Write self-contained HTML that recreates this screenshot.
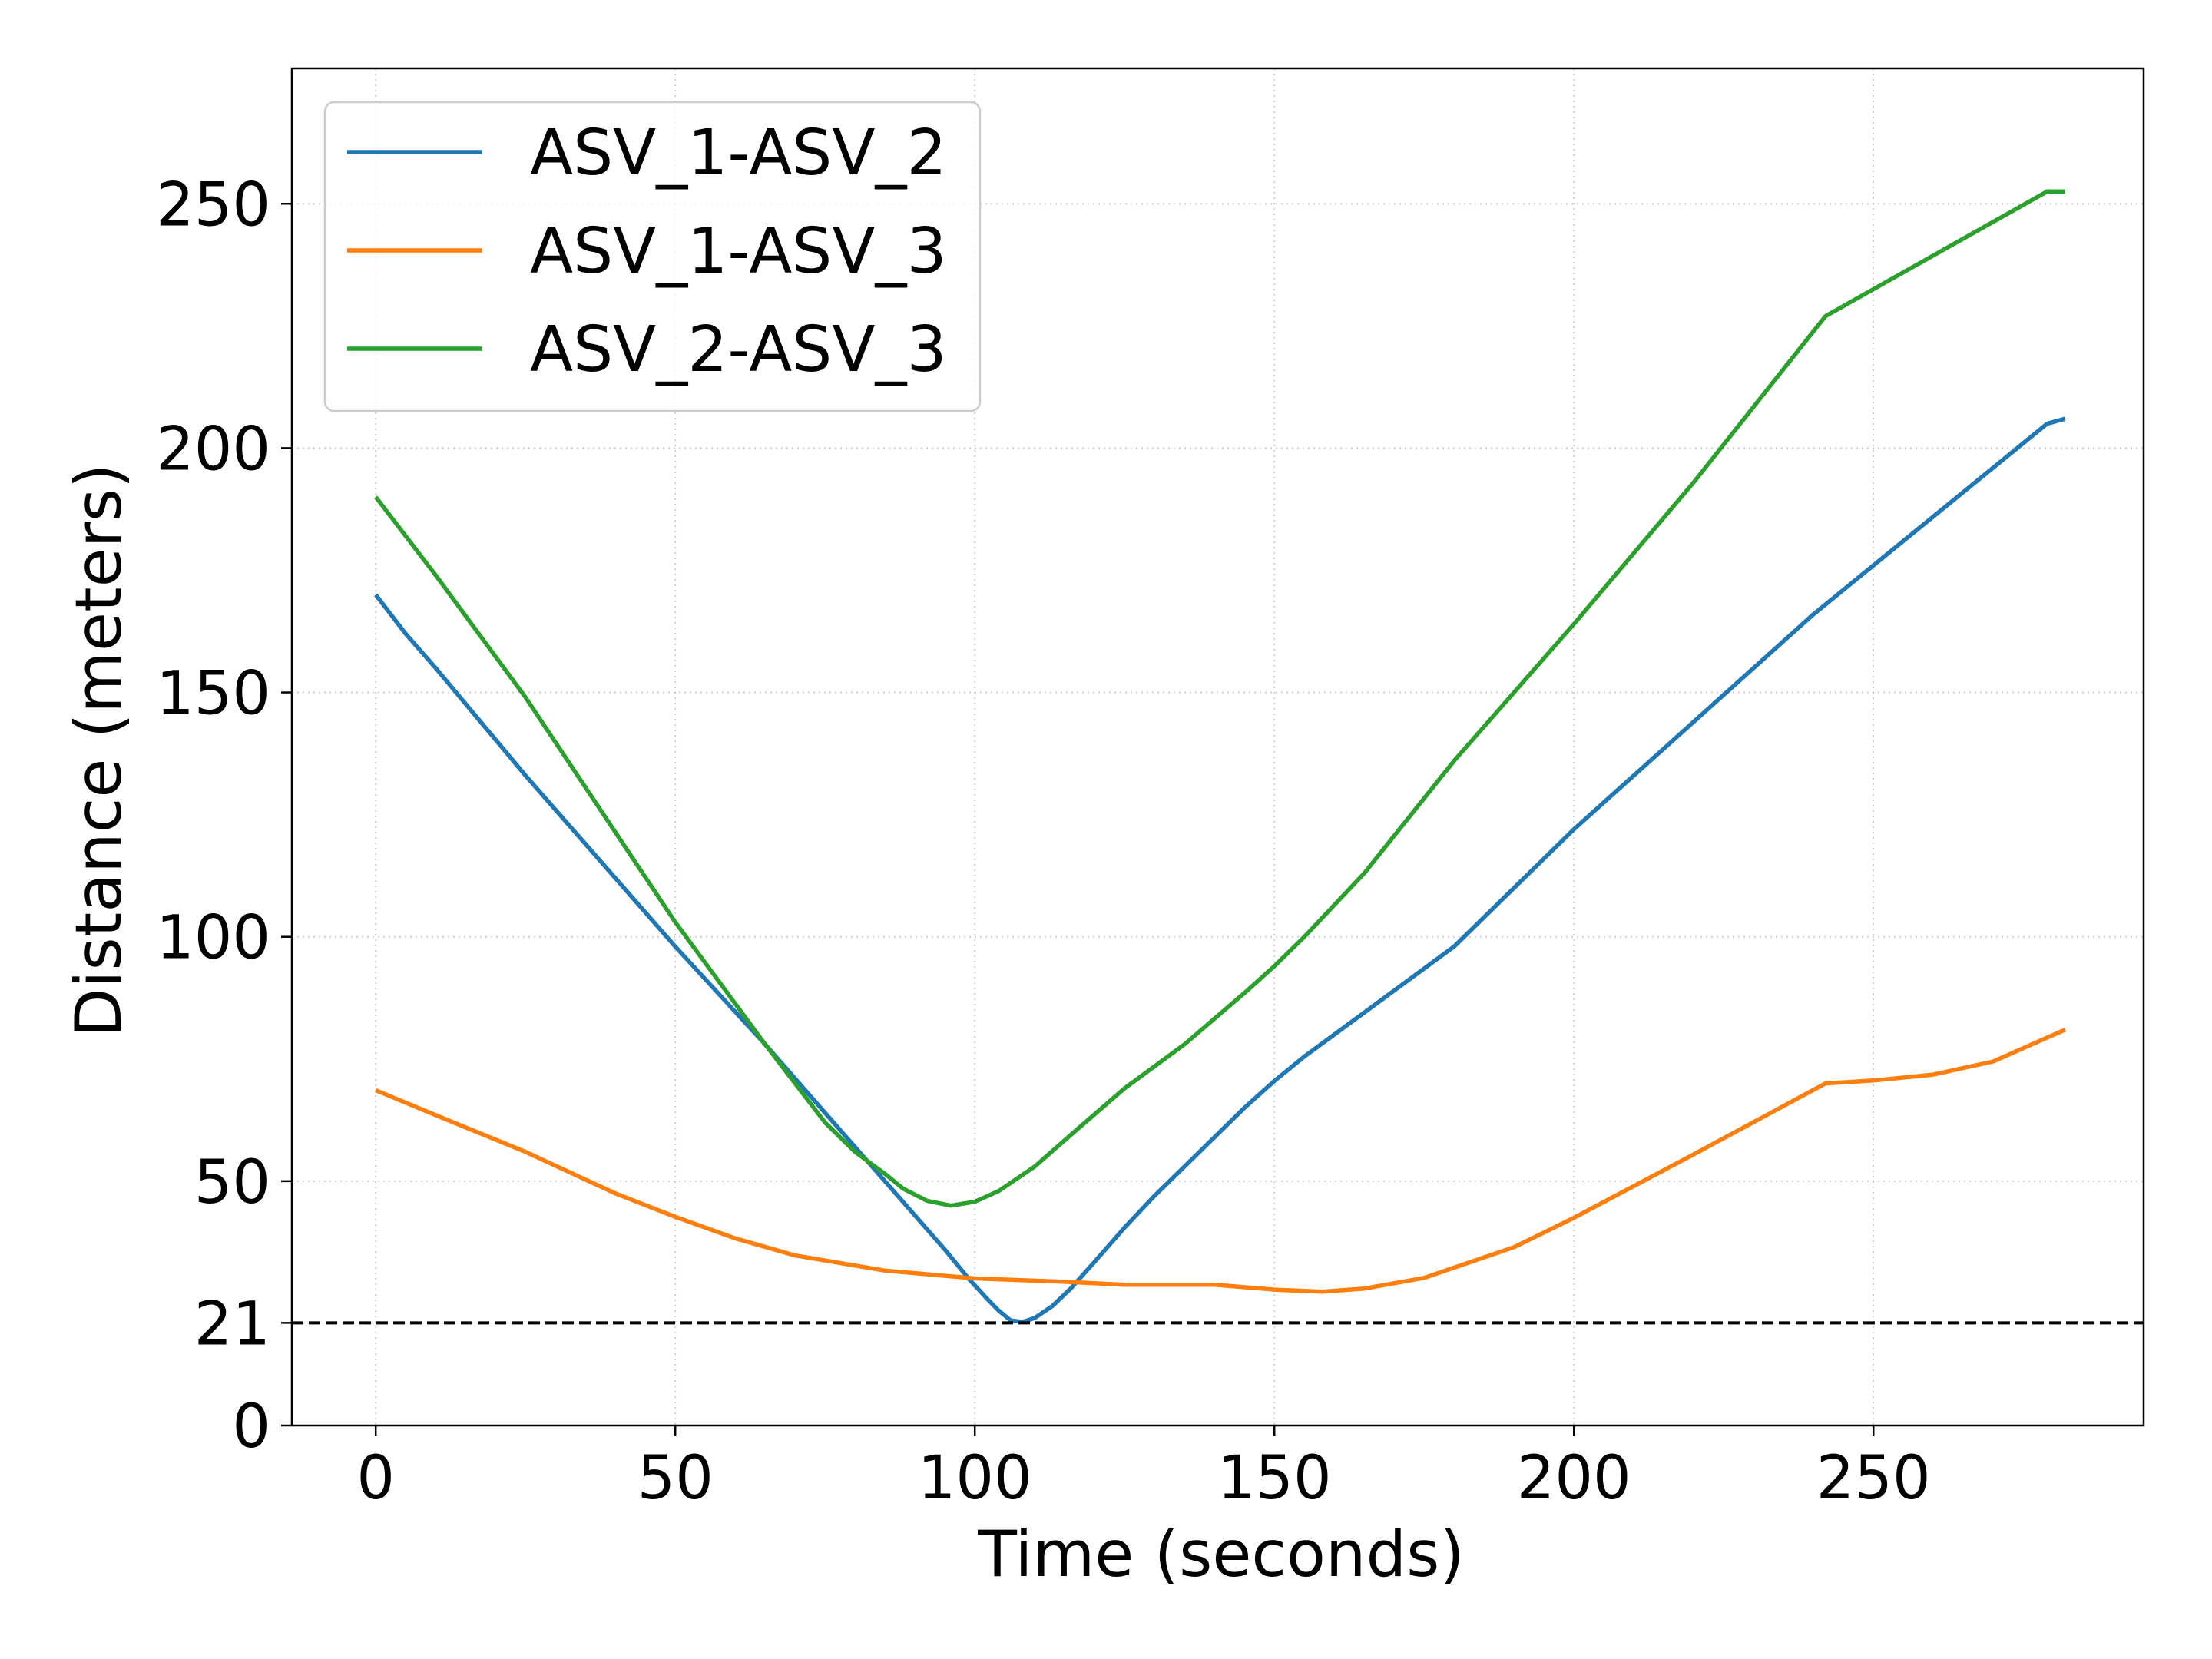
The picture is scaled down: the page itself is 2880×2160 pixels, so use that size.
<!DOCTYPE html>
<html><head><meta charset="utf-8"><style>
html,body{margin:0;padding:0;background:#fff;}
svg{display:block;font-family:"DejaVu Sans","Liberation Sans",sans-serif;}
</style></head><body>
<svg id="chart" width="2880" height="2160" viewBox="0 0 2880 2160" xmlns="http://www.w3.org/2000/svg">
<rect width="2880" height="2160" fill="#fff"/>
<g id="grid"></g>
<g id="series"></g>
<rect x="380" y="89" width="2411" height="1767" fill="none" stroke="#000" stroke-width="2.5"/>
<g id="ticks"></g>
<text x="1590" y="2052" font-size="83" text-anchor="middle">Time (seconds)</text>
<text x="0" y="0" font-size="83" text-anchor="middle" transform="translate(157,977) rotate(-90)">Distance (meters)</text>
<g id="legend">
<rect x="423" y="133" width="853" height="402" rx="12" fill="#fff" fill-opacity="0.8" stroke="#ccc" stroke-width="2.5"/>
</g>
</svg>
<script>
const categoriesT1 = [0,5,10,25,40,50,65,75,85,90,95,99,102,104,106,108,110,113,116,120,125,130,135,140,145,150,155,160,170,180,200,220,240,260,279,282];
const seriesA12 = [170,162,155,133,112,98,78,64,50,43,36,30,26,23.5,21.5,21.2,22,24.5,28,33.5,40.5,47,53,59,65,70.5,75.5,80,89,98,122,144,166,186,205,206];
const categoriesT2 = [0,10,25,50,65,75,80,85,88,92,96,100,104,110,117,125,135,145,150,155,165,180,200,220,242,279,282];
const seriesA23 = [190,174,149,103,78,62,56,51.5,48.5,46,45,45.8,48,53,60.5,69,78,88.5,94,100,113,136,164,193,227,252.5,252.5];
const categoriesT3 = [0,12,25,40,50,60,70,85,100,115,125,140,150,158,165,175,190,200,220,242,250,260,270,282];
const seriesA13 = [68.6,62.5,56,47.5,42.7,38.3,34.8,31.7,30.1,29.4,28.8,28.8,27.8,27.4,28,30.2,36.5,42.5,55.5,70,70.6,71.8,74.5,81];
const xTicks = [0,50,100,150,200,250];
const yTicks = [0,21,50,100,150,200,250];
const yGrid = [0,50,100,150,200,250];
const threshold = 21;
const legendLabels = ["ASV_1-ASV_2","ASV_1-ASV_3","ASV_2-ASV_3"];

const NS="http://www.w3.org/2000/svg";
const X0=380,X1=2791,Y0=1856,Y1=89, xmin=-14, xmax=295.1, ymin=0, ymax=277.7;
const xs=v=>X0+(v-xmin)/(xmax-xmin)*(X1-X0);
const ys=v=>Y0-(v-ymin)/(ymax-ymin)*(Y0-Y1);
function mk(tag,attrs,parent){const e=document.createElementNS(NS,tag);for(const k in attrs)e.setAttribute(k,attrs[k]);parent.appendChild(e);return e;}
const grid=document.getElementById('grid'),ticks=document.getElementById('ticks'),series=document.getElementById('series'),legend=document.getElementById('legend');
xTicks.forEach(v=>{
 const g=mk('line',{x1:xs(v),x2:xs(v),y1:Y1,y2:Y0,stroke:'#b0b0b0','stroke-width':2,'stroke-dasharray':'2,5','stroke-opacity':0.6},grid);
 
 
 const t=mk('line',{x1:xs(v),x2:xs(v),y1:Y0,y2:Y0+14,stroke:'#000','stroke-width':2.5},ticks);
 
 
 const l=mk('text',{x:xs(v),y:Y0+95,'font-size':78,'text-anchor':'middle'},ticks);l.textContent=v;
 
 
});
yGrid.forEach(v=>{
 const g=mk('line',{x1:X0,x2:X1,y1:ys(v),y2:ys(v),stroke:'#b0b0b0','stroke-width':2,'stroke-dasharray':'2,5','stroke-opacity':0.6},grid);
 
 
});
yTicks.forEach(v=>{
 const t=mk('line',{x1:X0-14,x2:X0,y1:ys(v),y2:ys(v),stroke:'#000','stroke-width':2.5},ticks);
 
 
 const l=mk('text',{x:X0-28,y:ys(v)+28,'font-size':78,'text-anchor':'end'},ticks);l.textContent=v;
 
 
});
const colors=['#1f77b4','#ff7f0e','#2ca02c'];
const sets=[[categoriesT1,seriesA12],[categoriesT3,seriesA13],[categoriesT2,seriesA23]];
const names=['series-asv1-asv2','series-asv1-asv3','series-asv2-asv3'];
sets.forEach(([t,v],i)=>{
 const d=t.map((x,j)=>(j?'L':'M')+xs(x).toFixed(1)+','+ys(v[j]).toFixed(1)).join(' ');
 const p=mk('path',{d:d,fill:'none',stroke:colors[i],'stroke-width':5.5,'stroke-linejoin':'round'},series);
 
 
});
const th=mk('line',{x1:X0,x2:X1,y1:ys(threshold),y2:ys(threshold),stroke:'#000','stroke-width':4,'stroke-dasharray':'15,7'},series);


legendLabels.forEach((lab,i)=>{
 const y=198+i*128;
 const l=mk('line',{x1:452,x2:628,y1:y,y2:y,stroke:colors[i],'stroke-width':5.5},legend);
 
 
 const t=mk('text',{x:690,y:y+29,'font-size':82},legend);t.textContent=lab;
 
 
});
</script>
</body></html>
